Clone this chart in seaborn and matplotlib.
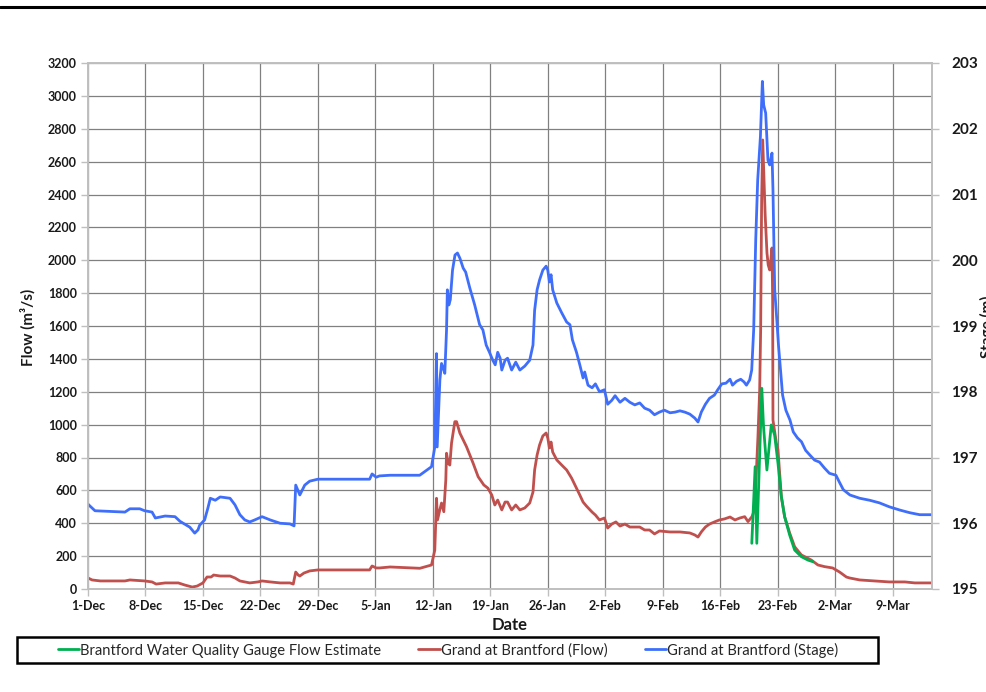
import matplotlib
matplotlib.use("Agg")
import matplotlib.pyplot as plt
import seaborn as sns
import pandas as pd
from matplotlib.lines import Line2D
from matplotlib.patches import Rectangle

# ---------------- data (day offset from 1-Dec-2017) ----------------
stage_day = [0.0, 0.85, 4.5, 5.1, 6.3, 6.9, 7.8, 8.2, 9.4, 10.6, 11.2, 12.4, 13.0, 13.4, 13.6,
             14.2, 14.6, 14.9, 15.5, 16.1, 17.3, 17.9, 18.5, 19.1, 19.7, 20.3, 21.2, 22.2, 23.4,
             24.6, 25.1, 25.3, 25.8, 26.4, 27.0, 28.0, 34.3, 34.6, 35.1, 35.5, 36.8, 39.2, 40.4,
             41.84, 42.24, 42.45, 42.53, 42.65, 42.86, 43.06, 43.34, 43.46, 43.67, 43.77, 43.95,
             44.13, 44.4, 44.7, 45.0, 45.3, 45.7, 46.0, 46.5, 47.1, 47.7, 48.1, 48.5, 48.9, 49.3,
             49.6, 49.9, 50.2, 50.4, 50.8, 51.1, 51.6, 52.1, 52.6, 53.2, 53.8, 54.2, 54.4, 54.7,
             55.0, 55.4, 55.8, 56.0, 56.2, 56.4, 56.6, 57.1, 57.7, 58.3, 58.7, 59.0, 59.5, 59.9,
             60.3, 60.5, 60.9, 61.4, 61.8, 62.3, 62.9, 63.3, 63.8, 64.2, 64.8, 65.4, 66.0, 66.6,
             67.2, 67.8, 68.4, 69.0, 69.6, 70.2, 70.9, 71.5, 72.1, 72.7, 73.3, 73.9, 74.3, 74.7,
             75.2, 75.7, 76.3, 76.7, 77.2, 77.7, 78.2, 78.5, 79.0, 79.5, 79.9, 80.2, 80.59, 80.84,
             81.08, 81.33, 81.57, 81.90, 82.14, 82.30, 82.54, 82.82, 83.03, 83.31, 83.43, 83.64,
             83.9, 84.1, 84.4, 84.6, 85.0, 85.5, 85.9, 86.4, 86.9, 87.4, 87.9, 88.5, 89.1, 89.7,
             90.3, 91.1, 91.5, 92.0, 92.8, 94.0, 95.2, 96.4, 97.6, 98.9, 100.1, 101.3, 102.8]
stage_m = [196.29, 196.19, 196.17, 196.22, 196.22, 196.19, 196.17, 196.08, 196.11, 196.10, 196.03,
           195.94, 195.85, 195.90, 195.97, 196.05, 196.23, 196.38, 196.35, 196.40, 196.38, 196.28,
           196.13, 196.05, 196.02, 196.05, 196.10, 196.05, 196.00, 195.99, 195.96, 196.58, 196.43,
           196.58, 196.64, 196.67, 196.67, 196.75, 196.70, 196.72, 196.73, 196.73, 196.73, 196.86,
           197.16, 198.58, 197.16, 197.52, 198.18, 198.43, 198.33, 198.28, 198.94, 199.55, 199.32,
           199.40, 199.85, 200.08, 200.11, 200.03, 199.88, 199.82, 199.58, 199.32, 199.02, 198.94,
           198.71, 198.60, 198.48, 198.41, 198.60, 198.51, 198.33, 198.48, 198.51, 198.33, 198.45,
           198.33, 198.39, 198.48, 198.71, 199.24, 199.55, 199.70, 199.85, 199.91, 199.85, 199.67,
           199.78, 199.55, 199.35, 199.20, 199.06, 199.02, 198.79, 198.60, 198.41, 198.21, 198.30,
           198.10, 198.06, 198.12, 198.00, 198.03, 197.81, 197.87, 197.94, 197.84, 197.90, 197.84,
           197.80, 197.83, 197.75, 197.72, 197.65, 197.69, 197.72, 197.68, 197.69, 197.71, 197.69,
           197.66, 197.60, 197.54, 197.69, 197.81, 197.90, 197.95, 198.03, 198.12, 198.13, 198.19,
           198.10, 198.16, 198.19, 198.15, 198.10, 198.18, 198.33, 198.94, 200.31, 201.22, 201.88,
           202.72, 202.36, 202.24, 201.52, 201.45, 201.63, 201.07, 199.55, 199.09, 198.71, 198.25,
           197.95, 197.72, 197.57, 197.39, 197.30, 197.24, 197.11, 197.04, 196.96, 196.93, 196.84,
           196.76, 196.73, 196.63, 196.51, 196.43, 196.38, 196.35, 196.31, 196.25, 196.20, 196.16,
           196.13, 196.13]

flow_day = [0.0, 0.5, 1.5, 4.5, 5.1, 6.9, 7.8, 8.3, 9.4, 11.0, 11.8, 12.7, 13.3, 14.0, 14.5,
            15.0, 15.3, 16.1, 17.3, 17.9, 18.5, 19.7, 20.7, 21.2, 22.2, 23.4, 24.6, 25.0, 25.3,
            25.6, 25.8, 26.3, 27.0, 28.0, 34.3, 34.6, 35.1, 35.5, 36.8, 40.42, 41.84, 42.24,
            42.45, 42.57, 42.85, 43.06, 43.34, 43.58, 43.67, 43.86, 44.07, 44.28, 44.68, 44.89,
            45.29, 46.10, 46.91, 47.52, 48.21, 48.70, 49.18, 49.55, 49.9, 50.4, 50.8, 51.1, 51.6,
            52.1, 52.6, 53.2, 53.8, 54.2, 54.4, 54.7, 55.0, 55.4, 55.8, 56.0, 56.2, 56.4, 56.6,
            57.1, 57.7, 58.3, 58.9, 59.5, 59.9, 60.3, 60.7, 61.4, 61.8, 62.3, 62.9, 63.3, 63.8,
            64.3, 64.8, 65.4, 66.0, 67.2, 67.8, 68.4, 69.0, 69.6, 70.9, 72.1, 73.3, 73.9, 74.3,
            74.7, 75.2, 75.7, 76.3, 76.9, 77.5, 78.2, 78.8, 79.4, 79.99, 80.39, 80.87, 81.20,
            81.60, 81.81, 81.93, 82.05, 82.18, 82.30, 82.48, 82.70, 82.85, 83.03, 83.15, 83.31,
            83.39, 83.43, 83.84, 84.04, 84.45, 84.85, 85.46, 86.07, 86.89, 88.10, 88.91, 89.72,
            90.70, 91.55, 92.37, 92.77, 94.0, 95.8, 97.6, 99.5, 100.7, 102.8]
flow_cms = [67, 55, 49, 49, 55, 49, 43, 30, 37, 37, 24, 12, 18, 37, 73, 73, 85, 79, 79, 67, 49,
            37, 43, 49, 43, 37, 37, 30, 103, 85, 79, 97, 110, 116, 116, 140, 128, 128, 134, 126,
            146, 237, 552, 420, 481, 523, 470, 663, 826, 766, 754, 888, 1018, 1018, 949, 866, 765,
            683, 633, 614, 572, 511, 541, 481, 529, 529, 481, 511, 481, 493, 523, 590, 724, 815,
            876, 931, 949, 919, 858, 894, 833, 785, 754, 724, 675, 614, 572, 529, 505, 468, 450,
            420, 432, 371, 395, 408, 383, 395, 377, 377, 359, 359, 335, 353, 347, 347, 341, 329,
            316, 347, 377, 395, 408, 420, 426, 438, 420, 432, 440, 410, 440, 481, 927, 1211, 1576,
            2367, 2732, 2549, 2275, 2044, 1971, 1941, 1990, 2075, 1758, 1028, 888, 846, 562, 440,
            341, 257, 207, 176, 146, 136, 128, 103, 73, 67, 55, 49, 43, 43, 37, 37]

est_day = [80.85, 81.26, 81.46, 82.07, 82.28, 82.69, 83.22, 83.63, 84.04, 84.45, 84.85, 85.46,
           86.07, 86.88, 87.69, 88.30]
est_cms = [278, 744, 278, 1221, 988, 724, 998, 937, 765, 562, 440, 329, 237, 197, 176, 166]

tick_dates = pd.date_range("2017-12-01", periods=15, freq="7D")
tick_labels = [f"{d.day}-{d.strftime('%b')}" for d in tick_dates]
labels = ["Brantford Water Quality Gauge Flow Estimate", "Grand at Brantford (Flow)",
          "Grand at Brantford (Stage)"]

# ---------------- styling ----------------
sns.set_theme(style="white")
plt.rcParams["font.family"] = ["Lato", "DejaVu Sans"]

GREEN = "#00b050"
RED = "#c0504d"
BLUE = "#3f6ffa"
AXIS_GRAY = "#bfbfbf"
GRID_GRAY = "#808080"

start = pd.Timestamp("2017-12-01")
df_stage = pd.DataFrame({"date": start + pd.to_timedelta(stage_day, unit="D"), "stage": stage_m})
df_flow = pd.DataFrame({"date": start + pd.to_timedelta(flow_day, unit="D"), "flow": flow_cms})
df_est = pd.DataFrame({"date": start + pd.to_timedelta(est_day, unit="D"), "flow": est_cms})

fig = plt.figure(figsize=(9.87, 6.92), dpi=100)
ax = fig.add_axes([88 / 987, 1 - 589 / 692, (932 - 88) / 987, (589 - 63) / 692])

sns.lineplot(data=df_flow, x="date", y="flow", ax=ax, color=RED, lw=2,
             estimator=None, sort=False)
sns.lineplot(data=df_est, x="date", y="flow", ax=ax, color=GREEN, lw=2,
             estimator=None, sort=False)
ax2 = ax.twinx()
sns.lineplot(data=df_stage, x="date", y="stage", ax=ax2, color=BLUE, lw=2,
             estimator=None, sort=False)

ax.set_ylim(0, 3200)
ax.set_yticks(range(0, 3201, 200))
ax2.set_ylim(195, 203)
ax2.set_yticks(range(195, 204))
ax.set_xlim(start, start + pd.Timedelta(days=102.8))
ax.set_xticks(tick_dates)
ax.set_xticklabels(tick_labels)

ax.grid(True, color=GRID_GRAY, lw=0.9)
ax2.grid(False)
ax.set_axisbelow(True)
for a in (ax, ax2):
    for s in a.spines.values():
        s.set_color(AXIS_GRAY)
        s.set_linewidth(1.2)
    a.set_xlabel("")
    a.set_ylabel("")

ax.tick_params(axis="both", which="major", length=5, width=1, color=AXIS_GRAY,
               labelsize=9, pad=3, direction="out", left=True, bottom=True)
ax2.tick_params(axis="y", length=5, width=1, color=AXIS_GRAY, labelsize=11,
                pad=9, direction="out", right=True)
for t in ax.get_xticklabels() + ax.get_yticklabels() + ax2.get_yticklabels():
    t.set_fontweight("bold")
    t.set_color("#1a1a1a")

fig.text(510 / 987, 1 - 625 / 692, "Date", ha="center", va="center",
         fontsize=12, fontweight="bold", color="#1a1a1a")
fig.text(28 / 987, 1 - 327 / 692, "Flow (m³/s)", ha="center", va="center",
         rotation=90, fontsize=11, fontweight="bold", color="#1a1a1a")
fig.text(980 / 987, 1 - 327 / 692, "Stage (m)", ha="left", va="center",
         rotation=90, fontsize=11, fontweight="bold", color="#1a1a1a")

# legend
handles = [Line2D([], [], color=GREEN, lw=2), Line2D([], [], color=RED, lw=2),
           Line2D([], [], color=BLUE, lw=2)]
fig.legend(handles, labels, loc="center", bbox_to_anchor=(448 / 987, 1 - 650 / 692),
           ncol=3, frameon=False, fontsize=10.6, handlelength=1.45, handletextpad=0.1,
           columnspacing=2.5)
fig.patches.append(Rectangle((17 / 987, 1 - 663 / 692), 861 / 987, 26 / 692, fill=False,
                             lw=1.8, edgecolor="black", transform=fig.transFigure))

# top rule
fig.add_artist(Line2D([0, 1], [1 - 7 / 692, 1 - 7 / 692], lw=2.2, color="black",
                      transform=fig.transFigure))

fig.savefig("out.png", dpi=100)
